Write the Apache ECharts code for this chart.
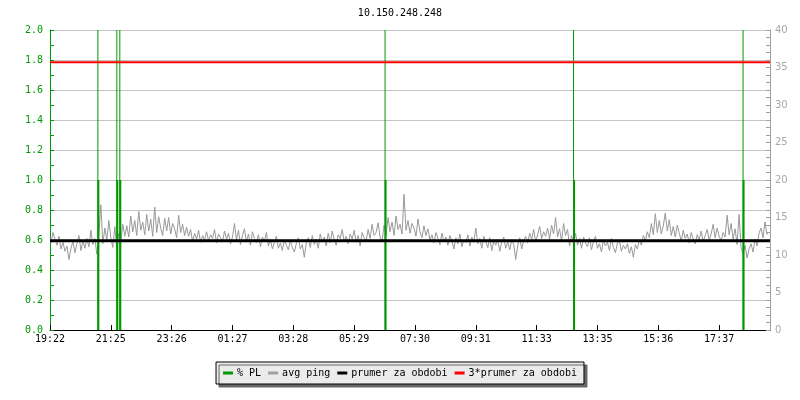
<!DOCTYPE html>
<html>
<head>
<meta charset="utf-8">
<script src="https://cdn.jsdelivr.net/npm/echarts@6/dist/echarts.min.js"></script>
<style>
  body { margin: 0; background: #fff; }
</style>
</head>
<body>
<div id="chart" style="width:800px;height:400px"></div>
<script>
// osa x: cislo vzorku, popisky po 61 vzorcich
var X_MAX = 722;
var X_STEP = 61;
var X_LABELS = ['19:22', '21:25', '23:26', '01:27', '03:28', '05:29',
                '07:30', '09:31', '11:33', '13:35', '15:36', '17:37'];

// avg ping [ms], jeden bod kazde 2 vzorky
var PING_STEP = 2;
var PING = [
  12.4, 11.6, 13.0, 12.1, 11.3, 12.5, 10.8, 11.7, 10.5, 11.2,
  9.4, 10.9, 11.8, 10.3, 11.5, 12.6, 10.6, 11.9, 10.9, 12.2,
  11.1, 13.3, 11.4, 12.2, 10.1, 12.8, 16.7, 11.5, 13.6, 12.0,
  14.6, 12.3, 11.0, 13.8, 10.7, 12.9, 11.9, 14.1, 12.5, 13.9,
  12.4, 15.2, 13.1, 14.6, 12.6, 15.8, 13.3, 14.4, 12.7, 15.4,
  13.2, 14.8, 12.5, 16.4, 13.0, 15.1, 13.6, 12.6, 14.9, 13.2,
  15.0, 12.8, 14.2, 13.5, 12.3, 15.3, 13.0, 14.1, 12.6, 13.7,
  12.5, 13.4, 11.8, 12.9, 12.1, 13.3, 11.7, 12.6, 12.0, 13.1,
  11.9, 12.7, 12.2, 13.4, 11.6, 12.8, 12.3, 11.8, 13.2, 12.1,
  12.9, 11.5, 12.4, 14.2, 12.0, 13.3, 11.4, 12.6, 13.5, 11.7,
  12.8, 11.3, 13.1, 12.2, 11.6, 12.7, 11.1, 12.4, 11.8, 13.0,
  11.2, 12.1, 10.8, 11.7, 12.5, 10.9, 11.6, 10.6, 12.0, 11.3,
  10.7, 11.9, 11.0, 10.4, 11.5, 12.3, 10.8, 11.4, 9.7, 11.6,
  12.3, 11.0, 12.6, 11.4, 12.1, 10.9, 12.8, 11.7, 12.4, 11.2,
  12.9, 11.6, 13.2, 12.0, 11.3, 12.7, 12.2, 13.4, 11.8, 12.5,
  11.5, 12.8, 12.1, 13.3, 11.7, 12.6, 11.2, 13.0, 12.3, 11.9,
  13.4, 12.2, 14.1, 12.6, 13.0, 14.3, 12.4, 11.8, 14.0, 12.7,
  15.0, 13.1, 14.4, 12.6, 15.2, 13.4, 14.1, 12.8, 18.1, 13.3,
  14.6, 12.9, 14.2, 13.6, 12.5, 14.8, 13.1, 12.3, 13.9, 12.6,
  13.5, 12.0, 12.7, 11.6, 13.0, 12.2, 11.4, 12.9, 11.8, 12.4,
  11.3, 12.6, 11.9, 10.8, 12.3, 11.5, 12.8, 11.1, 12.0, 11.6,
  12.7, 11.2, 12.4, 11.7, 13.6, 11.5, 12.2, 10.9, 12.5, 11.8,
  11.0, 12.3, 10.6, 11.9, 11.3, 12.1, 10.5, 11.7, 12.4, 10.9,
  11.8, 10.7, 12.0, 11.4, 9.4, 11.2, 12.3, 10.8, 11.9, 12.5,
  11.6, 12.9, 12.1, 13.4, 11.8, 12.7, 13.8, 12.2, 13.1, 12.5,
  13.6, 12.1, 14.0, 12.8, 15.0, 12.4, 13.5, 11.8, 14.2, 12.6,
  13.4, 11.2, 12.6, 11.5, 12.9, 11.3, 12.2, 10.9, 12.4, 11.6,
  11.1, 12.3, 10.7, 11.8, 12.5, 10.9, 11.5, 10.4, 12.0, 11.2,
  11.7, 10.6, 12.2, 11.0, 10.3, 11.6, 11.9, 10.5, 11.3, 10.8,
  11.5, 10.2, 11.1, 9.7, 11.4, 10.8, 12.0, 11.3, 12.6, 11.9,
  13.1, 12.3, 14.2, 12.7, 15.5, 13.0, 14.6, 12.8, 13.9, 15.6,
  13.2, 14.7, 12.6, 13.8, 12.4, 14.0, 12.9, 11.9, 13.3, 12.2,
  12.8, 11.6, 13.0, 12.1, 11.5, 12.7, 12.0, 13.2, 11.8, 12.6,
  13.4, 12.0, 12.8, 14.1, 12.3, 13.6, 12.5, 11.9, 13.0, 12.4,
  15.3, 12.7, 14.2, 12.1, 13.5, 11.4, 15.4, 10.9, 10.2, 11.3,
  9.6, 10.8, 11.5, 10.4, 12.1, 11.2, 12.9, 13.6, 12.3, 14.4,
  12.8
];

// % PL - vzorky se ztratou
var PL_AT = [48, 67, 70, 336, 525, 695];
var PL_VAL = [1.0, 1.0, 1.0, 1.0, 1.0, 1.0];
var PL_TOP = [2.0, 2.0, 2.0, 2.0, 2.0, 2.0];

var MEAN = 11.9;       // prumer za obdobi [ms]
var MEAN3 = 3 * MEAN;  // 3*prumer

var MONO = 'DejaVu Sans Mono';
var GREEN = '#009900';

var pingData = PING.map(function (v, i) { return [i * PING_STEP, v]; });
var plData = PL_AT.map(function (x, i) { return [x, PL_VAL[i]]; });
var plTopData = PL_AT.map(function (x, i) { return [x, PL_TOP[i]]; });
var xTicks = X_LABELS.map(function (l, i) { return i * X_STEP; });

var chart = echarts.init(document.getElementById('chart'));
chart.setOption({
  animation: false,
  backgroundColor: '#fff',
  title: {
    text: '10.150.248.248',
    left: 'center',
    top: 3,
    textStyle: { fontFamily: MONO, fontSize: 10, fontWeight: 'normal', color: '#000' }
  },
  grid: { left: 50, right: 30, top: 30, bottom: 70 },
  legend: {
    bottom: 16,
    left: 'center',
    padding: [6, 7],
    itemGap: 7,
    itemWidth: 10,
    itemHeight: 3,
    backgroundColor: '#ebebeb',
    borderColor: '#000',
    borderWidth: 1,
    shadowColor: '#666',
    shadowBlur: 0,
    shadowOffsetX: 3,
    shadowOffsetY: 3,
    textStyle: { fontFamily: MONO, fontSize: 10, color: '#000', padding: [0, 0, 0, -1] },
    data: [
      { name: '% PL', icon: 'rect', itemStyle: { color: GREEN } },
      { name: 'avg ping', icon: 'rect', itemStyle: { color: '#a0a0a0' } },
      { name: 'prumer za obdobi', icon: 'rect', itemStyle: { color: '#000' } },
      { name: '3*prumer za obdobi', icon: 'rect', itemStyle: { color: '#ff0000' } }
    ]
  },
  xAxis: {
    type: 'value',
    min: 0,
    max: X_MAX,
    interval: X_STEP,
    axisLine: { lineStyle: { color: '#000', width: 1 } },
    axisTick: { inside: true, length: 5, lineStyle: { color: '#000' }, customValues: xTicks },
    axisLabel: {
      fontFamily: MONO, fontSize: 10, color: '#000', margin: 4,
      customValues: xTicks,
      formatter: function (v) { return X_LABELS[Math.round(v / X_STEP)] || ''; }
    },
    splitLine: { show: false }
  },
  yAxis: [
    {
      type: 'value',
      min: 0,
      max: 2,
      interval: 0.2,
      axisLine: { show: true, lineStyle: { color: GREEN } },
      axisTick: { show: true, inside: true, length: 4, lineStyle: { color: GREEN } },
      minorTick: { show: true, splitNumber: 2, length: 4, lineStyle: { color: GREEN } },
      axisLabel: {
        fontFamily: MONO, fontSize: 10, color: GREEN, margin: 7,
        formatter: function (v) { return v.toFixed(1); }
      },
      splitLine: { show: true, lineStyle: { color: '#c4c4c4', width: 1 } }
    },
    {
      type: 'value',
      min: 0,
      max: 40,
      interval: 5,
      position: 'right',
      axisLine: { show: true, lineStyle: { color: '#a0a0a0' } },
      axisTick: { show: true, inside: true, length: 4, lineStyle: { color: '#a0a0a0' } },
      minorTick: { show: true, splitNumber: 5, length: 4, lineStyle: { color: '#a0a0a0' } },
      axisLabel: { fontFamily: 'DejaVu Sans', fontSize: 10, color: '#a8a8a8', margin: 5 },
      splitLine: { show: false }
    }
  ],
  series: [
    {
      name: 'avg ping',
      type: 'line',
      yAxisIndex: 1,
      symbol: 'none',
      step: 'middle',
      z: 2,
      lineStyle: { color: '#999999', width: 1 },
      data: pingData
    },
    {
      name: '% PL',
      type: 'bar',
      yAxisIndex: 0,
      barWidth: 2,
      barGap: '-100%',
      z: 3,
      itemStyle: { color: GREEN },
      data: plData
    },
    {
      name: 'pl-top',
      type: 'bar',
      yAxisIndex: 0,
      barWidth: 1,
      barGap: '-100%',
      z: 3,
      itemStyle: { color: GREEN },
      data: plTopData
    },
    {
      name: 'prumer za obdobi',
      type: 'line',
      yAxisIndex: 1,
      symbol: 'none',
      z: 4,
      lineStyle: { color: '#000', width: 3 },
      data: [[0, MEAN], [X_MAX, MEAN]]
    },
    {
      name: '3*prumer za obdobi',
      type: 'line',
      yAxisIndex: 1,
      symbol: 'none',
      z: 5,
      lineStyle: { color: '#ff0000', width: 2 },
      data: [[0, MEAN3], [X_MAX, MEAN3]]
    }
  ]
});
</script>
</body>
</html>
